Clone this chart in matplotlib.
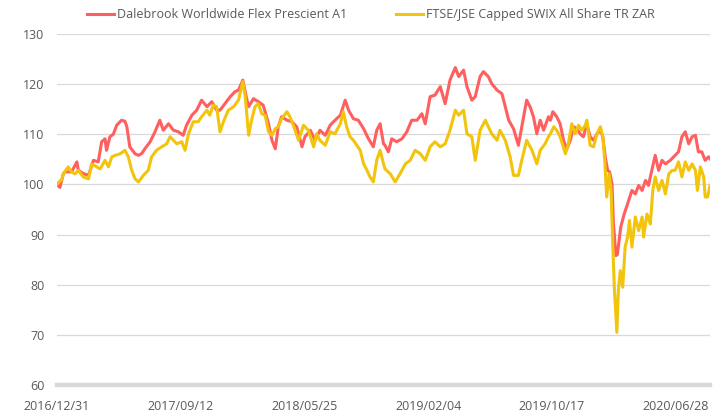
import numpy as np
import pandas as pd
import matplotlib
matplotlib.use("Agg")
import matplotlib.pyplot as plt

start_date = "2016-12-31"

# days after start date, index level
fund_days = [0, 6, 13, 16, 30, 41, 44, 54, 65, 75, 85, 92, 99, 102, 109, 116, 123, 133,
             140, 144, 150, 161, 168, 175, 181, 192, 202, 212, 219, 230, 240, 250, 260,
             267, 278, 288, 298, 309, 319, 329,
             336, 346, 357, 367, 374, 383, 390, 395, 405, 415, 425, 436, 443, 450, 456,
             463, 474, 484, 494, 505, 511, 522, 532, 542, 553, 563, 573, 584, 594, 601,
             611, 621, 632, 642, 652, 659, 666, 673,
             676, 683, 690, 700, 711, 721, 731, 742, 752, 759, 769, 779, 790, 800, 810,
             821, 828, 838, 845, 855, 862, 872, 879, 889, 896, 907, 917, 924, 931, 941,
             951, 958, 968, 975, 982, 989, 996, 1003, 1013,
             1017, 1022, 1030, 1037, 1044, 1051, 1058, 1065, 1072, 1078, 1085, 1092,
             1099, 1106, 1113, 1120, 1125, 1130, 1135, 1139, 1144, 1147, 1152, 1155,
             1162, 1169, 1176, 1185, 1192, 1199, 1206, 1213, 1219, 1226, 1233, 1240,
             1247, 1254, 1264, 1274, 1281, 1288, 1295, 1302, 1309, 1316, 1322, 1329,
             1336, 1343, 1346]
fund_vals = [100.0, 99.4, 102.1, 102.5, 102.5, 104.5, 102.8, 102.2, 101.8, 104.8, 104.5,
             108.5, 109.1, 106.8, 109.5, 110.0, 111.8, 112.8, 112.6, 111.5, 107.5, 106.1,
             105.8, 106.2, 107.1, 108.5, 110.5, 112.8, 110.8, 112.1, 110.8, 110.5, 109.8,
             111.8, 113.8, 114.8, 116.8, 115.5, 116.5, 114.8,
             114.8, 116.1, 117.5, 118.5, 118.8, 120.8, 117.5, 115.5, 117.1, 116.5, 115.8,
             112.1, 108.8, 107.1, 111.5, 113.5, 112.8, 112.5, 111.5, 107.5, 109.5, 110.8,
             108.8, 110.8, 109.8, 111.8, 112.8, 113.8, 116.8, 114.8, 113.1, 112.8, 111.1,
             109.1, 107.5, 110.8, 112.1, 108.1,
             107.8, 106.5, 109.1, 108.5, 109.1, 110.5, 112.8, 112.8, 114.1, 112.1, 117.5,
             117.8, 119.5, 116.1, 120.8, 123.3, 121.5, 122.8, 119.5, 116.8, 117.5, 121.5,
             122.5, 121.5, 120.1, 118.8, 118.1, 115.5, 112.8, 111.1, 107.8, 111.5, 116.8,
             115.5, 113.5, 110.1, 112.8, 110.8, 113.5,
             112.8, 114.5, 113.5, 112.1, 108.8, 107.1, 108.8, 111.5, 111.1, 110.1, 109.5,
             112.1, 109.5, 108.8, 110.1, 110.8, 109.5, 105.5, 102.8, 102.5, 100.1, 92.1,
             85.8, 86.0, 91.5, 94.1, 96.1, 98.8, 98.1, 99.8, 98.8, 100.8, 99.8, 102.8,
             105.8, 102.8, 104.8, 104.1, 104.8, 105.8, 106.5, 109.5, 110.5, 108.1, 109.5,
             109.8, 106.5, 106.5, 104.8, 105.5, 105.1]

swix_days = [0, 10, 13, 23, 30, 37, 44, 54, 65, 71, 82, 89, 99, 106, 113, 120, 130, 140,
             147, 154, 161, 168, 178, 188, 195, 205, 216, 226, 233, 240, 247, 257, 264,
             271, 281, 291, 298, 309, 315, 322, 329,
             336, 343, 353, 364, 374, 383, 388, 395, 401, 408, 415, 422, 429, 436, 443,
             450, 456, 463, 474, 480, 487, 498, 508, 518, 529, 535, 542, 553, 563, 573,
             584, 590, 597, 604, 611, 618, 625, 632, 639, 645, 652, 659, 666, 673,
             676, 687, 697, 707, 718, 728, 738, 749, 759, 769, 779, 790, 800, 810, 821,
             828, 838, 845, 855, 862, 872, 883, 889, 896, 907, 913, 924, 934, 941, 951,
             958, 968, 979, 989, 996, 1006, 1013,
             1017, 1024, 1030, 1037, 1048, 1054, 1061, 1068, 1075, 1082, 1089, 1092,
             1099, 1106, 1113, 1120, 1125, 1129, 1133, 1138, 1142, 1146, 1149, 1154,
             1157, 1161, 1166, 1171, 1176, 1180, 1185, 1192, 1199, 1206, 1209, 1216,
             1223, 1228, 1233, 1240, 1247, 1254, 1261, 1268, 1274, 1281, 1288, 1295,
             1302, 1309, 1316, 1320, 1326, 1333, 1336, 1341, 1346]
swix_vals = [100.1, 101.0, 102.1, 103.5, 102.5, 102.1, 102.8, 101.5, 101.1, 104.1, 103.5,
             103.1, 104.8, 103.5, 105.5, 105.8, 106.1, 106.8, 105.5, 102.8, 101.1, 100.5,
             101.8, 102.8, 105.5, 106.8, 107.5, 108.1, 109.5, 108.8, 108.1, 108.5, 106.8,
             110.1, 112.5, 112.5, 113.5, 114.8, 113.8, 115.8, 115.5,
             110.5, 112.5, 114.8, 115.5, 116.8, 120.5, 117.5, 109.8, 112.8, 115.5, 116.1,
             114.1, 113.8, 110.5, 109.8, 111.1, 111.5, 113.1, 114.5, 113.5, 111.8, 108.8,
             111.8, 110.8, 107.5, 110.1, 108.8, 107.8, 110.5, 110.1, 112.1, 114.5, 111.5,
             109.5, 108.8, 107.8, 106.8, 104.1, 102.8, 101.5, 100.5, 104.8, 106.8, 104.1,
             103.1, 102.1, 100.5, 102.1, 104.1, 104.8, 106.8, 106.1, 104.8, 107.5, 108.5,
             107.5, 108.1, 110.8, 114.8, 113.8, 114.8, 110.1, 109.5, 104.8, 110.8, 112.8,
             111.5, 110.1, 108.8, 110.8, 108.8, 105.5, 101.8, 101.8, 104.8, 108.8, 106.8,
             104.1, 106.8, 108.1, 109.5,
             110.1, 111.5, 110.8, 109.5, 106.1, 108.1, 112.1, 110.1, 111.8, 110.8, 111.8,
             112.8, 107.8, 107.5, 110.1, 111.5, 109.5, 104.8, 97.5, 102.1, 98.8, 86.8,
             78.8, 70.5, 78.8, 82.8, 79.5, 87.5, 89.5, 92.8, 87.5, 93.5, 90.8, 93.5, 89.5,
             94.1, 92.1, 98.8, 101.5, 98.8, 100.8, 98.1, 102.1, 102.8, 102.8, 104.5,
             101.5, 104.5, 102.8, 104.1, 102.8, 98.8, 103.5, 101.5, 97.5, 97.5, 99.8]

tick_dates = ["2016-12-31", "2017-09-12", "2018-05-25", "2019-02-04", "2019-10-17",
              "2020-06-28"]
fund_label = "Dalebrook Worldwide Flex Prescient A1"
swix_label = "FTSE/JSE Capped SWIX All Share TR ZAR"


def main():
    plt.rcParams["font.family"] = ["Open Sans", "DejaVu Sans"]
    grey = "#595959"

    t0 = pd.Timestamp(start_date)
    fund_x = t0 + pd.to_timedelta(fund_days, unit="D")
    swix_x = t0 + pd.to_timedelta(swix_days, unit="D")

    fig = plt.figure(figsize=(7.18, 4.15), dpi=100)
    ax = fig.add_axes([0.0794, 0.0723, 0.9095, 0.8458])

    ax.plot(fund_x, fund_vals, color="#FF5F5F", lw=2.2, label=fund_label, zorder=3)
    ax.plot(swix_x, swix_vals, color="#F2C40C", lw=2.2, label=swix_label, zorder=4)

    # light gridlines, thick base line at 60
    for v in range(70, 131, 10):
        ax.axhline(v, color="#D9D9D9", lw=0.9, zorder=1)
    ax.axhline(60, color="#D9D9D9", lw=3.2, zorder=1, clip_on=False)

    ax.set_ylim(60, 130)
    ax.set_yticks(range(60, 131, 10))
    ax.set_xlim(t0, t0 + pd.Timedelta(days=1346))
    ticks = pd.to_datetime(tick_dates)
    ax.set_xticks(ticks)
    ax.set_xticklabels([d.strftime("%Y/%m/%d") for d in ticks])

    for s in ax.spines.values():
        s.set_visible(False)
    ax.tick_params(axis="y", length=0, pad=9, labelsize=9, labelcolor=grey)
    ax.tick_params(axis="x", length=0, pad=11, labelsize=9, labelcolor=grey)

    fig.legend(loc="center", bbox_to_anchor=(0.516, 0.964), ncol=2, frameon=False,
               fontsize=9, handlelength=2.2, handletextpad=0.2, columnspacing=3.9,
               labelcolor=grey)

    fig.savefig("out.png", dpi=100)


if __name__ == "__main__":
    main()
